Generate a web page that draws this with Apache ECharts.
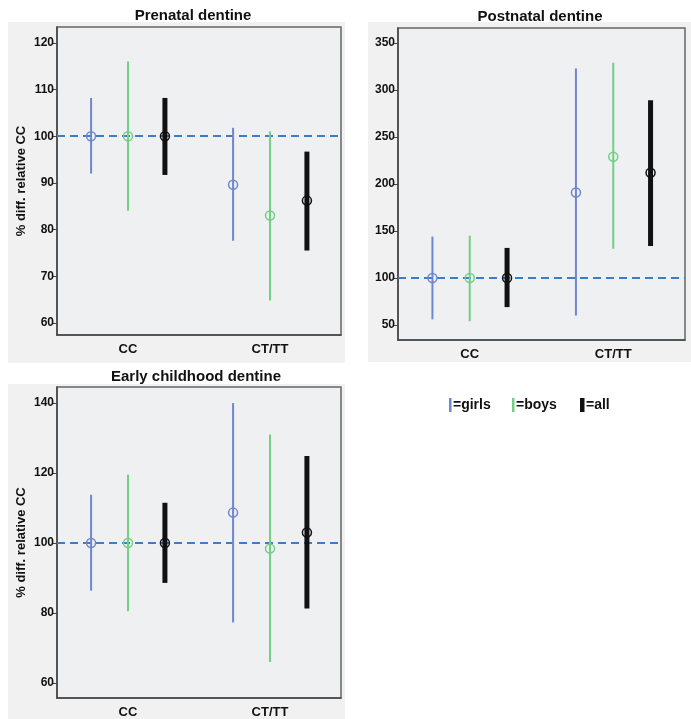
<!DOCTYPE html>
<html>
<head>
<meta charset="utf-8">
<script src="https://cdn.jsdelivr.net/npm/echarts@6/dist/echarts.min.js"></script>
<style>
  html,body{margin:0;padding:0;background:#fff;}
  #chart{width:691px;height:719px;}
</style>
</head>
<body>
<div id="chart"></div>
<script>
// categories on every x axis
var categories = ['CC', 'CT/TT'];
// each row: [mean, lower, upper] for CC and CT/TT
var prenatalGirls = [[100, 92, 108.2], [89.6, 77.6, 101.8]];
var prenatalBoys  = [[100, 84, 116], [83, 64.8, 101]];
var prenatalAll   = [[100, 91.7, 108.2], [86.2, 75.5, 96.7]];

var postnatalGirls = [[100, 56, 144], [191, 60, 323]];
var postnatalBoys  = [[100, 54, 145], [229, 131, 329]];
var postnatalAll   = [[100, 69, 132], [212, 134, 289]];

var earlyGirls = [[100, 86.4, 113.8], [108.7, 77.3, 140]];
var earlyBoys  = [[100, 80.5, 119.5], [98.4, 66, 131]];
var earlyAll   = [[100, 88.6, 111.5], [103, 81.3, 124.9]];

var prenatalTicks  = [60, 70, 80, 90, 100, 110, 120];
var postnatalTicks = [50, 100, 150, 200, 250, 300, 350];
var earlyTicks     = [60, 80, 100, 120, 140];

var refValue = 100;

var groups = [
  {name: 'girls', color: '#6f86d0', width: 2, offset: -0.26},
  {name: 'boys',  color: '#72cf84', width: 2, offset: 0},
  {name: 'all',   color: '#111111', width: 5, offset: 0.26}
];

var myChart = echarts.init(document.getElementById('chart'));

function toRows(arr) {
  return arr.map(function (d, i) { return [i, d[0], d[1], d[2]]; });
}

function errSeries(idx, g, rows, withRef) {
  var s = {
    type: 'custom',
    name: g.name,
    xAxisIndex: idx,
    yAxisIndex: idx,
    data: toRows(rows),
    encode: {x: 0, y: [1, 2, 3]},
    renderItem: function (params, api) {
      var band = api.size([1, 0])[0];
      var dx = g.offset * band;
      var pm = api.coord([api.value(0), api.value(1)]);
      var pl = api.coord([api.value(0), api.value(2)]);
      var ph = api.coord([api.value(0), api.value(3)]);
      var x = pm[0] + dx;
      return {
        type: 'group',
        children: [
          {type: 'line', shape: {x1: x, y1: pl[1], x2: x, y2: ph[1]},
           style: {stroke: g.color, lineWidth: g.width}},
          {type: 'circle', shape: {cx: x, cy: pm[1], r: 4.5},
           style: {stroke: g.color, fill: 'none', lineWidth: 1.5}}
        ]
      };
    },
    z: 3
  };
  if (withRef) {
    s.markLine = {
      silent: true,
      symbol: 'none',
      label: {show: false},
      lineStyle: {color: '#3f7cc4', type: [8, 5], width: 2},
      data: [{yAxis: refValue}],
      z: 2
    };
  }
  return s;
}

var grids = [
  {left: 57, top: 27, right: 350, bottom: 384},
  {left: 398, top: 28, right: 6, bottom: 379},
  {left: 57, top: 387, right: 350, bottom: 20}
];
grids.forEach(function (g) {
  g.show = true;
  g.backgroundColor = '#eef0f2';
  g.borderColor = '#666';
  g.borderWidth = 1.5;
});

var font = 'Liberation Sans, Arial, sans-serif';

function xAx(idx) {
  return {
    type: 'category', gridIndex: idx, data: categories,
    boundaryGap: true,
    axisLine: {lineStyle: {color: '#444', width: 1.5}},
    axisTick: {alignWithLabel: true, length: 5, lineStyle: {color: '#444'}},
    axisLabel: {color: '#111', fontWeight: 'bold', fontSize: 13, fontFamily: font, margin: 8},
    splitLine: {show: false}
  };
}
function yAx(idx, min, max, ticks, name) {
  return {
    type: 'value', gridIndex: idx, min: min, max: max,
    name: name || '', nameLocation: 'middle', nameGap: 29,
    nameTextStyle: {color: '#111', fontWeight: 'bold', fontSize: 13, fontFamily: font},
    axisLine: {show: true, lineStyle: {color: '#444', width: 1.5}},
    axisTick: {show: true, length: 5, customValues: ticks, lineStyle: {color: '#444'}},
    axisLabel: {color: '#111', fontWeight: 'bold', fontSize: 12, fontFamily: font, margin: 3, customValues: ticks},
    splitLine: {show: false}
  };
}

var panelData = [
  [prenatalGirls, prenatalBoys, prenatalAll],
  [postnatalGirls, postnatalBoys, postnatalAll],
  [earlyGirls, earlyBoys, earlyAll]
];
var series = [];
panelData.forEach(function (pd, idx) {
  groups.forEach(function (g, k) {
    series.push(errSeries(idx, g, pd[k], k === 0));
  });
});

var titleStyle = {color: '#111', fontWeight: 'bold', fontSize: 15, fontFamily: font};

var option = {
  backgroundColor: '#ffffff',
  animation: false,
  title: [
    {text: 'Prenatal dentine', left: 193, top: 8, textAlign: 'center', padding: 0, textStyle: titleStyle},
    {text: 'Postnatal dentine', left: 540, top: 9, textAlign: 'center', padding: 0, textStyle: titleStyle},
    {text: 'Early childhood dentine', left: 196, top: 369, textAlign: 'center', padding: 0, textStyle: titleStyle}
  ],
  graphic: [
    {type: 'rect', z: -10, shape: {x: 8, y: 22, width: 337, height: 341}, style: {fill: '#f1f1f1'}},
    {type: 'rect', z: -10, shape: {x: 368, y: 22, width: 323, height: 340}, style: {fill: '#f1f1f1'}},
    {type: 'rect', z: -10, shape: {x: 8, y: 384, width: 337, height: 335}, style: {fill: '#f1f1f1'}},
    {type: 'group', left: 449, top: 398, children: [
      {type: 'rect', shape: {x: 0, y: 0, width: 2.5, height: 14}, style: {fill: groups[0].color}},
      {type: 'text', x: 4, y: 7, style: {text: '=girls', fill: '#111', font: 'bold 14px ' + font, textVerticalAlign: 'middle'}},
      {type: 'rect', shape: {x: 63, y: 0, width: 2.5, height: 14}, style: {fill: groups[1].color}},
      {type: 'text', x: 67, y: 7, style: {text: '=boys', fill: '#111', font: 'bold 14px ' + font, textVerticalAlign: 'middle'}},
      {type: 'rect', shape: {x: 131, y: 0, width: 4.5, height: 14}, style: {fill: groups[2].color}},
      {type: 'text', x: 137, y: 7, style: {text: '=all', fill: '#111', font: 'bold 14px ' + font, textVerticalAlign: 'middle'}}
    ]}
  ],
  grid: grids,
  xAxis: [xAx(0), xAx(1), xAx(2)],
  yAxis: [
    yAx(0, 57.4, 123.4, prenatalTicks, '% diff. relative CC'),
    yAx(1, 34, 366, postnatalTicks),
    yAx(2, 55.7, 144.6, earlyTicks, '% diff. relative CC')
  ],
  series: series
};
myChart.setOption(option);
</script>
</body>
</html>
